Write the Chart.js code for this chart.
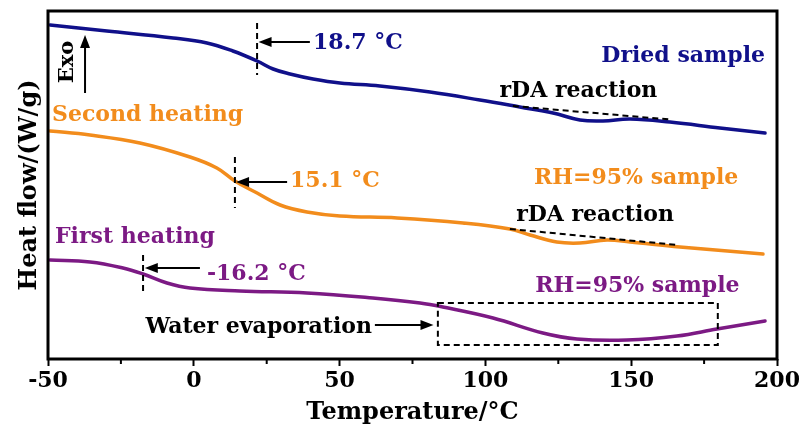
<!DOCTYPE html>
<html>
<head>
<meta charset="utf-8">
<script src="https://cdn.jsdelivr.net/npm/chart.js@4"></script>
<style>
  html, body { margin: 0; padding: 0; background: #fff; }
  #wrap { width: 803px; height: 428px; }
</style>
</head>
<body>
<div id="wrap"><canvas id="dscChart" width="803" height="428"></canvas></div>
<script>
// temperatures (°C) and heat flow (arbitrary units, exo up)
const tickLabels = [-50, 0, 50, 100, 150, 200];

const driedT = [-49.3, -29.8, -7.1, 4.5, 13.4, 21.7, 27.2, 33.0, 40.9, 50.1, 63.8, 81.0, 98.1, 111.8, 123.2, 132.4, 140.3, 149.6, 163.3, 180.4, 195.9];
const driedHF = [33.4, 32.8, 32.1, 31.6, 30.8, 29.8, 29.0, 28.5, 28.0, 27.6, 27.3, 26.7, 25.9, 25.2, 24.6, 23.9, 23.8, 24.0, 23.7, 23.1, 22.6];

const secondT = [-49.3, -35.6, -18.5, -1.3, 7.9, 14.1, 21.7, 29.6, 38.8, 50.1, 69.7, 92.3, 108.4, 115.3, 124.5, 132.4, 141.7, 149.6, 166.7, 195.2];
const secondHF = [22.8, 22.4, 21.6, 20.2, 19.1, 17.8, 16.6, 15.4, 14.7, 14.3, 14.1, 13.6, 13.0, 12.4, 11.7, 11.6, 11.9, 11.7, 11.2, 10.5];

const firstT = [-49.3, -35.6, -24.3, -17.4, -9.2, -1.3, 15.8, 38.8, 61.4, 77.6, 85.4, 102.6, 119.7, 131.4, 148.5, 165.7, 179.4, 195.9];
const firstHF = [9.9, 9.7, 9.1, 8.5, 7.6, 7.1, 6.8, 6.6, 6.1, 5.6, 5.2, 4.1, 2.6, 2.0, 1.9, 2.3, 3.0, 3.8];

const BLUE = "#10108a";
const ORANGE = "#f28c1c";
const PURPLE = "#7c1a84";
const FONT = "'DejaVu Serif', serif";

// annotation marks, in data units (T, heat flow)
const dashedMarks = [
    [21.7, 33.6, 21.7, 28.4],
    [14.1, 20.2, 14.1, 15.1],
    [-17.4, 10.4, -17.4, 6.4],
    [109.4, 25.3, 163.3, 23.95],
    [108.4, 13.0, 166.0, 11.4]
];
const arrows = [
    [39.8, 31.7, 22.2, 31.7],
    [32.0, 17.7, 14.5, 17.7],
    [2.1, 9.1, -16.8, 9.1],
    [62.1, 3.4, 82.2, 3.4],
    [-37.3, 26.6, -37.3, 32.4]
];
const notes = [
    { text: "18.7 °C", x: 40.9, y: 30.97, align: "left", color: BLUE },
    { text: "Dried sample", x: 195.9, y: 29.7, align: "right", color: BLUE },
    { text: "rDA reaction", x: 131.9, y: 26.2, align: "center", color: "#000" },
    { text: "Second heating", x: -48.6, y: 23.8, align: "left", color: ORANGE },
    { text: "15.1 °C", x: 33.0, y: 17.2, align: "left", color: ORANGE },
    { text: "RH=95% sample", x: 151.7, y: 17.5, align: "center", color: ORANGE },
    { text: "rDA reaction", x: 137.6, y: 13.8, align: "center", color: "#000" },
    { text: "First heating", x: -47.6, y: 11.6, align: "left", color: PURPLE },
    { text: "-16.2 °C", x: 4.5, y: 7.9, align: "left", color: PURPLE },
    { text: "RH=95% sample", x: 152.1, y: 6.7, align: "center", color: PURPLE },
    { text: "Water evaporation", x: 61.1, y: 2.6, align: "right", color: "#000" }
];
const evapBox = [83.7, 5.6, 179.7, 1.4];

function toPoints(xs, ys) {
    return xs.map((t, i) => ({ x: t, y: ys[i] }));
}

/** frame, minor ticks and all the notes **/
const notesPlugin = {
    id: "notes",
    afterDatasetsDraw(chart) {
        const { ctx, chartArea: a, scales: { x, y } } = chart;
        ctx.save();

        // box round the plot
        ctx.lineWidth = 3;
        ctx.strokeStyle = "#000";
        ctx.strokeRect(a.left, a.top, a.right - a.left, a.bottom - a.top);

        // minor ticks
        ctx.lineWidth = 2;
        for (let t = -25; t < 200; t += 50) {
            const px = x.getPixelForValue(t);
            ctx.beginPath();
            ctx.moveTo(px, a.bottom);
            ctx.lineTo(px, a.bottom + 5);
            ctx.stroke();
        }

        // dashed marks
        ctx.setLineDash([6, 4]);
        ctx.lineWidth = 2;
        dashedMarks.forEach(m => {
            ctx.beginPath();
            ctx.moveTo(x.getPixelForValue(m[0]), y.getPixelForValue(m[1]));
            ctx.lineTo(x.getPixelForValue(m[2]), y.getPixelForValue(m[3]));
            ctx.stroke();
        });
        ctx.strokeRect(x.getPixelForValue(evapBox[0]), y.getPixelForValue(evapBox[1]),
            x.getPixelForValue(evapBox[2]) - x.getPixelForValue(evapBox[0]),
            y.getPixelForValue(evapBox[3]) - y.getPixelForValue(evapBox[1]));
        ctx.setLineDash([]);

        // arrows
        arrows.forEach(ar => {
            const x1 = x.getPixelForValue(ar[0]), y1 = y.getPixelForValue(ar[1]);
            const x2 = x.getPixelForValue(ar[2]), y2 = y.getPixelForValue(ar[3]);
            const ang = Math.atan2(y2 - y1, x2 - x1);
            ctx.lineWidth = 2;
            ctx.beginPath();
            ctx.moveTo(x1, y1);
            ctx.lineTo(x2 - 8 * Math.cos(ang), y2 - 8 * Math.sin(ang));
            ctx.stroke();
            ctx.beginPath();
            ctx.moveTo(x2, y2);
            ctx.lineTo(x2 - 13 * Math.cos(ang) + 5 * Math.sin(ang), y2 - 13 * Math.sin(ang) - 5 * Math.cos(ang));
            ctx.lineTo(x2 - 13 * Math.cos(ang) - 5 * Math.sin(ang), y2 - 13 * Math.sin(ang) + 5 * Math.cos(ang));
            ctx.closePath();
            ctx.fillStyle = "#000";
            ctx.fill();
        });

        // text notes
        ctx.font = "bold 22px " + FONT;
        ctx.textBaseline = "alphabetic";
        notes.forEach(n => {
            ctx.fillStyle = n.color;
            ctx.textAlign = n.align;
            ctx.fillText(n.text, x.getPixelForValue(n.x), y.getPixelForValue(n.y));
        });

        // Exo, rotated
        ctx.save();
        ctx.translate(x.getPixelForValue(-41.5), y.getPixelForValue(29.7));
        ctx.rotate(-Math.PI / 2);
        ctx.fillStyle = "#000";
        ctx.textAlign = "center";
        ctx.font = "bold 21px " + FONT;
        ctx.fillText("Exo", 0, 0);
        ctx.restore();

        ctx.restore();
    }
};

document.addEventListener("DOMContentLoaded", function () {
    const canvas = document.getElementById("dscChart").getContext("2d");

    const lineStyle = { pointRadius: 0, borderWidth: 3.5, fill: false, tension: 0.4, borderCapStyle: "round", borderJoinStyle: "round" };

    new Chart(canvas, {
        type: "line",
        data: {
            datasets: [
                { label: "Dried sample", data: toPoints(driedT, driedHF), borderColor: BLUE, ...lineStyle },
                { label: "RH=95% second heating", data: toPoints(secondT, secondHF), borderColor: ORANGE, ...lineStyle },
                { label: "RH=95% first heating", data: toPoints(firstT, firstHF), borderColor: PURPLE, ...lineStyle }
            ]
        },
        options: {
            responsive: false,
            animation: false,
            devicePixelRatio: 1,
            layout: { padding: { top: 11, right: 26, left: 0, bottom: 0 } },
            plugins: { legend: { display: false }, tooltip: { enabled: false } },
            scales: {
                x: {
                    type: "linear",
                    min: -50,
                    max: 200,
                    afterFit(scale) { scale.height = 69; },
                    border: { display: false },
                    grid: {
                        drawOnChartArea: false,
                        tickLength: 7,
                        tickWidth: 2,
                        tickColor: c => (tickLabels.includes(c.tick.value) ? "#000" : "rgba(0,0,0,0)")
                    },
                    ticks: {
                        stepSize: 25,
                        autoSkip: false,
                        maxRotation: 0,
                        padding: 2,
                        color: "#000",
                        font: { family: FONT, size: 22, weight: "bold" },
                        callback: v => (tickLabels.includes(v) ? String(v) : "")
                    },
                    title: {
                        display: true,
                        text: "Temperature/°C",
                        color: "#000",
                        padding: { top: 0, bottom: 1 },
                        font: { family: FONT, size: 24, weight: "bold" }
                    }
                },
                y: {
                    min: 0,
                    max: 34.8,
                    afterFit(scale) { scale.width = 48; },
                    border: { display: false },
                    grid: { display: false, drawTicks: false },
                    ticks: { display: false },
                    title: {
                        display: true,
                        text: "Heat flow/(W/g)",
                        color: "#000",
                        padding: { top: 15, bottom: 0 },
                        font: { family: FONT, size: 24, weight: "bold" }
                    }
                }
            }
        },
        plugins: [notesPlugin]
    });
});
</script>
</body>
</html>
